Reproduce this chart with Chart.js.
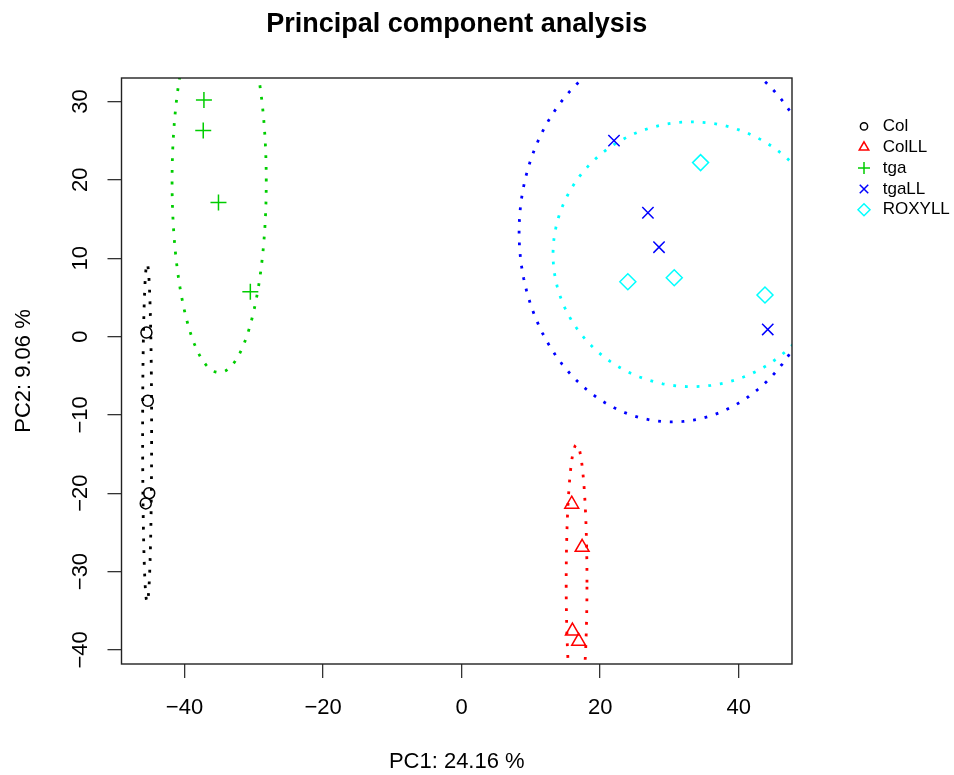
<!DOCTYPE html>
<html>
<head>
<meta charset="utf-8">
<script src="https://cdn.jsdelivr.net/npm/chart.js@4.4.0/dist/chart.umd.min.js"></script>
<style>
  html, body { margin: 0; padding: 0; background: #fff; }
</style>
</head>
<body>
<canvas id="pcaChart" width="954" height="775"></canvas>
<script>
// groups and their look
const groups = ["Col", "ColLL", "tga", "tgaLL", "ROXYLL"];
const colors = ["#000000", "#FF0000", "#00CD00", "#0000FF", "#00FFFF"];
const pointStyles = ["circle", "triangle", "cross", "crossRot", "rectRot"];

// sample scores
const colPC1 = [-45.5, -45.3, -45.1, -45.6];
const colPC2 = [0.5, -8.2, -20.0, -21.3];
const colLLPC1 = [15.9, 17.4, 16.0, 16.9];
const colLLPC2 = [-21.4, -26.9, -37.6, -38.9];
const tgaPC1 = [-37.2, -37.3, -35.1, -30.5];
const tgaPC2 = [30.2, 26.3, 17.1, 5.7];
const tgaLLPC1 = [22.0, 26.9, 28.5, 44.2];
const tgaLLPC2 = [25.0, 15.8, 11.4, 0.9];
const roxyllPC1 = [34.5, 24.0, 30.7, 43.8];
const roxyllPC2 = [22.2, 7.0, 7.5, 5.3];

// confidence ellipses (centre and semi-axes, in data units)
const ellipseCenterX = [-45.4, 16.6, -35.0, 30.4, 33.2];
const ellipseCenterY = [-12.3, -31.4, 19.8, 13.3, 10.5];
const ellipseRadiusX = [0.65, 1.5, 6.8, 22.1, 20.0];
const ellipseRadiusY = [21.6, 17.6, 24.4, 24.2, 16.9];

// axes
const xTickValues = [-40, -20, 0, 20, 40];
const yTickValues = [-40, -30, -20, -10, 0, 10, 20, 30];
const xRange = [-49.1, 47.7];
const yRange = [-41.8, 33.0];

const pc1 = [colPC1, colLLPC1, tgaPC1, tgaLLPC1, roxyllPC1];
const pc2 = [colPC2, colLLPC2, tgaPC2, tgaLLPC2, roxyllPC2];
const pointSizes = [5.5, 8, 8, 8, 8];
const legendSizes = [3.6, 5.5, 6, 6, 6];

const FONT = "'Liberation Sans', Arial, Helvetica, sans-serif";
const ELLIPSE_STEPS = 180;

function fmt(value) {
  return value < 0 ? "\u2212" + Math.abs(value) : String(value);
}

function ellipsePoints(i) {
  const pts = [];
  for (let k = 0; k <= ELLIPSE_STEPS; k++) {
    const t = (2 * Math.PI * k) / ELLIPSE_STEPS;
    pts.push({
      x: ellipseCenterX[i] + ellipseRadiusX[i] * Math.cos(t),
      y: ellipseCenterY[i] + ellipseRadiusY[i] * Math.sin(t)
    });
  }
  return pts;
}

const datasets = [];
groups.forEach((name, i) => {
  datasets.push({
    label: name,
    data: pc1[i].map((x, j) => ({ x, y: pc2[i][j] })),
    pointStyle: pointStyles[i],
    pointRadius: pointSizes[i],
    pointBorderWidth: 1.5,
    borderColor: colors[i],
    backgroundColor: "rgba(0,0,0,0)",
    showLine: false,
    order: 1
  });
  datasets.push({
    label: name + " ellipse",
    data: ellipsePoints(i),
    showLine: true,
    pointRadius: 0,
    borderColor: colors[i],
    borderWidth: 2.8,
    borderDash: [2.8, 8.9],
    fill: false,
    tension: 0,
    order: 2
  });
});

const frameAndLegend = {
  id: "frameAndLegend",
  afterDraw(chart) {
    const { ctx, chartArea } = chart;
    const yScale = chart.scales.y;
    ctx.save();

    // plot box
    ctx.strokeStyle = "#222";
    ctx.lineWidth = 1.4;
    ctx.strokeRect(chartArea.left, chartArea.top, chartArea.right - chartArea.left, chartArea.bottom - chartArea.top);

    // y tick labels, parallel to the axis
    ctx.fillStyle = "#000";
    ctx.font = "22px " + FONT;
    ctx.textAlign = "center";
    ctx.textBaseline = "alphabetic";
    yTickValues.forEach((v) => {
      const py = yScale.getPixelForValue(v);
      ctx.save();
      ctx.translate(chartArea.left - 34.5, py);
      ctx.rotate(-Math.PI / 2);
      ctx.fillText(fmt(v), 0, 0);
      ctx.restore();
    });

    // legend
    const lx = chartArea.right + 72;
    ctx.font = "17px " + FONT;
    ctx.textAlign = "left";
    ctx.textBaseline = "middle";
    groups.forEach((name, i) => {
      const ly = chartArea.top + 48.4 + 20.85 * i;
      ctx.strokeStyle = colors[i];
      ctx.fillStyle = "rgba(0,0,0,0)";
      ctx.lineWidth = 1.5;
      Chart.helpers.drawPoint(ctx, { pointStyle: pointStyles[i], radius: legendSizes[i], rotation: 0, borderWidth: 1.5 }, lx, ly);
      ctx.fillStyle = "#000";
      ctx.fillText(name, lx + 18.7, ly);
    });
    ctx.restore();
  }
};

new Chart(document.getElementById("pcaChart"), {
  type: "scatter",
  data: { datasets },
  plugins: [frameAndLegend],
  options: {
    responsive: false,
    animation: false,
    events: [],
    layout: { padding: { top: 0, right: 162, bottom: 0, left: 0 } },
    plugins: {
      legend: { display: false },
      tooltip: { enabled: false },
      title: {
        display: true,
        fullSize: false,
        text: "Principal component analysis",
        color: "#000",
        font: { family: FONT, size: 27, weight: "bold" },
        padding: { top: 8.4, bottom: 37.2 }
      }
    },
    scales: {
      x: {
        type: "linear",
        min: xRange[0],
        max: xRange[1],
        afterBuildTicks: (scale) => { scale.ticks = xTickValues.map((v) => ({ value: v })); },
        afterFit: (scale) => { scale.height = 111; },
        border: { display: false },
        grid: { drawOnChartArea: false, drawTicks: true, tickLength: 14, color: "#333", lineWidth: 1.3 },
        ticks: {
          color: "#000",
          font: { family: FONT, size: 22 },
          padding: 17,
          maxRotation: 0,
          autoSkip: false,
          callback: (value) => fmt(value)
        },
        title: {
          display: true,
          text: "PC1: 24.16 %",
          color: "#000",
          font: { family: FONT, size: 22 },
          padding: { top: 0, bottom: 0 }
        }
      },
      y: {
        type: "linear",
        min: yRange[0],
        max: yRange[1],
        afterBuildTicks: (scale) => { scale.ticks = yTickValues.map((v) => ({ value: v })); },
        afterFit: (scale) => { scale.width = 121.5; },
        border: { display: false },
        grid: { drawOnChartArea: false, drawTicks: true, tickLength: 14, color: "#333", lineWidth: 1.3 },
        ticks: { display: false },
        title: {
          display: true,
          text: "PC2: 9.06 %",
          color: "#000",
          font: { family: FONT, size: 22 },
          padding: { top: 11, bottom: 0 }
        }
      }
    }
  }
});
</script>
</body>
</html>
